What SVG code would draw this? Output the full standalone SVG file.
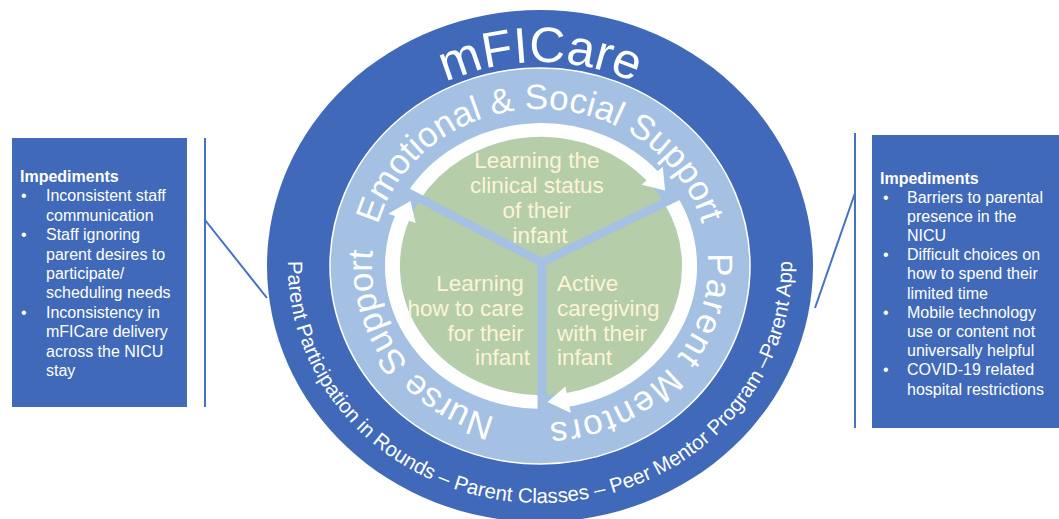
<svg xmlns="http://www.w3.org/2000/svg" width="1059" height="519" viewBox="0 0 1059 519">
  <style>
    .box { fill: #4169b9; }
    .boxtxt { font-family: "Liberation Sans", Arial, sans-serif; font-size: 16px; fill: #ffffff; }
    .hd { font-weight: bold; }
    .link { stroke: #4472c4; stroke-width: 2; fill: none; }
    .ring-lbl { font-family: "Liberation Sans", Arial, sans-serif; font-size: 35px; fill: #ffffff; }
    .outer-lbl { font-family: "Liberation Sans", Arial, sans-serif; font-size: 20.5px; fill: #ffffff; }
    .title { font-family: "Liberation Sans", Arial, sans-serif; font-size: 50px; fill: #ffffff; }
    .seg { font-family: "Liberation Sans", Arial, sans-serif; font-size: 22.5px; fill: #fdf4d8; }
    .band { fill: none; stroke: #ffffff; stroke-width: 15; }
    .head { fill: #ffffff; }
    .arm { stroke: #a4c0e2; stroke-width: 9; stroke-linecap: butt; }
  </style>
  <defs>
    <!-- baseline for the title, over the top of the outer ring -->
    <path id="titlePath" d="M 323,266 A 217,204 0 0 1 757,266"/>
    <!-- clockwise baseline for the light ring labels, starting at the bottom -->
    <path id="ringPath" d="M 540,423 A 168,157 0 0 1 540,109 A 168,157 0 0 1 540,423 A 168,157 0 0 1 540,109"/>
    <!-- counter-clockwise baseline through the bottom of the outer ring -->
    <path id="outerPath" d="M 303.2,184.9 A 252,237 0 1 0 776.8,184.9"/>
  </defs>

  <!-- connectors from the impediment boxes to the model -->
  <g id="connectors">
    <line class="link" x1="205" y1="138" x2="205" y2="407"/>
    <line class="link" x1="205" y1="220" x2="267" y2="298"/>
    <line class="link" x1="855" y1="133" x2="855" y2="428"/>
    <line class="link" x1="855" y1="193" x2="815" y2="308"/>
  </g>

  <!-- left impediments -->
  <g id="impediments-left">
    <rect class="box" x="12" y="138" width="175" height="269"/>
    <text class="boxtxt hd" x="20" y="182">Impediments</text>
    <text class="boxtxt">
      <tspan x="21" y="201.4">•</tspan><tspan x="46" y="201.4">Inconsistent staff</tspan>
      <tspan x="46" y="220.8">communication</tspan>
      <tspan x="21" y="240.2">•</tspan><tspan x="46" y="240.2">Staff ignoring</tspan>
      <tspan x="46" y="259.6">parent desires to</tspan>
      <tspan x="46" y="279">participate/</tspan>
      <tspan x="46" y="298.4">scheduling needs</tspan>
      <tspan x="21" y="317.8">•</tspan><tspan x="46" y="317.8">Inconsistency in</tspan>
      <tspan x="46" y="337.2">mFICare delivery</tspan>
      <tspan x="46" y="356.6">across the NICU</tspan>
      <tspan x="46" y="376">stay</tspan>
    </text>
  </g>

  <!-- right impediments -->
  <g id="impediments-right">
    <rect class="box" x="872" y="135" width="187" height="293"/>
    <text class="boxtxt hd" x="880" y="183.5">Impediments</text>
    <text class="boxtxt">
      <tspan x="883" y="202.5">•</tspan><tspan x="907" y="202.5">Barriers to parental</tspan>
      <tspan x="907" y="221.7">presence in the</tspan>
      <tspan x="907" y="240.9">NICU</tspan>
      <tspan x="883" y="260.1">•</tspan><tspan x="907" y="260.1">Difficult choices on</tspan>
      <tspan x="907" y="279.3">how to spend their</tspan>
      <tspan x="907" y="298.5">limited time</tspan>
      <tspan x="883" y="317.7">•</tspan><tspan x="907" y="317.7">Mobile technology</tspan>
      <tspan x="907" y="336.9">use or content not</tspan>
      <tspan x="907" y="356.1">universally helpful</tspan>
      <tspan x="883" y="375.3">•</tspan><tspan x="907" y="375.3">COVID-19 related</tspan>
      <tspan x="907" y="394.5">hospital restrictions</tspan>
    </text>
  </g>

  <!-- outer ring: mFICare -->
  <g id="mficare-ring">
    <ellipse cx="540" cy="266" rx="273" ry="256" fill="#4169b9"/>
    <text class="title"><textPath href="#titlePath" startOffset="50%" text-anchor="middle">mFICare</textPath></text>
    <text class="outer-lbl"><textPath href="#outerPath" startOffset="50%" text-anchor="middle">Parent Participation in Rounds – Parent Classes – Peer Mentor Program –Parent App</textPath></text>
  </g>

  <!-- support ring -->
  <g id="support-ring">
    <ellipse cx="540" cy="266" rx="210" ry="198" fill="#a4c0e2" stroke="#ffffff" stroke-width="1.5"/>
    <text class="ring-lbl"><textPath href="#ringPath" startOffset="158" text-anchor="middle">Nurse Support</textPath></text>
    <text class="ring-lbl"><textPath href="#ringPath" startOffset="510" text-anchor="middle">Emotional &amp; Social Support</textPath></text>
    <text class="ring-lbl" letter-spacing="1.5"><textPath href="#ringPath" startOffset="883" text-anchor="middle">Parent Mentors</textPath></text>
  </g>

  <!-- inner cycle: green disc, arrow band, dividers -->
  <g id="cycle" transform="translate(541,266) scale(1,0.916)">
    <circle r="141" fill="#b5cda8"/>
    <path class="band" d="M -127.3,-76.5 A 148.5,148.5 0 0 1 112.1,-97.4"/>
    <polygon class="head" points="124.1,-82.3 121.8,-108.3 100.6,-88.6"/>
    <path class="band" d="M 129.9,-72.0 A 148.5,148.5 0 0 1 24.5,146.5"/>
    <polygon class="head" points="6.5,148.4 29.8,160.4 24.4,131.6"/>
    <path class="band" d="M 0,148.5 A 148.5,148.5 0 0 1 -138.2,-54.4"/>
    <polygon class="head" points="-130.5,-70.9 -152.8,-57.1 -125.4,-46.9"/>
    <line class="arm" x1="1" y1="-4" x2="-141.4" y2="-85"/>
    <line class="arm" x1="1" y1="-4" x2="144.3" y2="-80"/>
    <line class="arm" x1="1" y1="-8" x2="1" y2="165"/>
  </g>

  <g id="segment-clinical">
    <text class="seg" text-anchor="middle">
      <tspan x="540" y="168">Learning the</tspan>
      <tspan x="540" y="193">clinical status</tspan>
      <tspan x="540" y="218">of their</tspan>
      <tspan x="540" y="243">infant</tspan>
    </text>
  </g>
  <g id="segment-care">
    <text class="seg" text-anchor="end">
      <tspan x="530" y="291">Learning</tspan>
      <tspan x="530" y="316">how to care</tspan>
      <tspan x="530" y="341">for their</tspan>
      <tspan x="530" y="365">infant</tspan>
    </text>
  </g>
  <g id="segment-active">
    <text class="seg" text-anchor="start">
      <tspan x="557" y="291">Active</tspan>
      <tspan x="557" y="316">caregiving</tspan>
      <tspan x="557" y="341">with their</tspan>
      <tspan x="557" y="365">infant</tspan>
    </text>
  </g>
</svg>
